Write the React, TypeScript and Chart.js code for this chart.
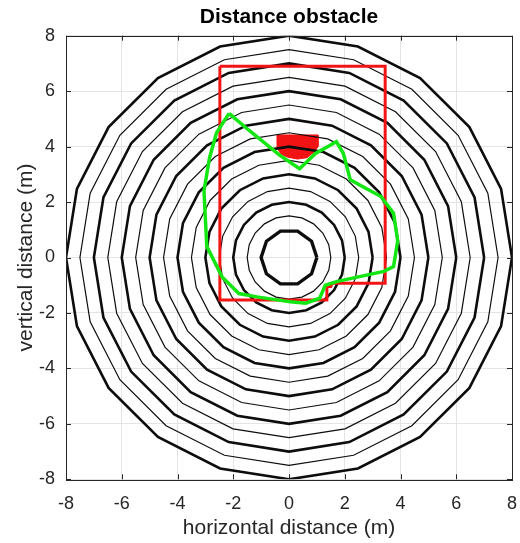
import React, { useEffect, useRef } from 'react';
import { Chart, registerables } from 'chart.js';

Chart.register(...registerables);

// ---- data ----
const AXIS_TICKS = [-8, -6, -4, -2, 0, 2, 4, 6, 8];

// distance rings (radius in m) and number of polygon sides of each ring
const RING_RADII = [1, 1.5, 2, 2.5, 3, 3.5, 4, 4.5, 5, 5.5, 6, 6.5, 7, 7.5, 8];
const RING_SIDES = [10, 20, 20, 20, 20, 20, 20, 20, 20, 20, 20, 20, 20, 20, 20];

// red obstacle outline
const OBSTACLE_X = [-2.48, 3.45, 3.45, 1.55, 1.5, 1.36, 1.36, -2.48, -2.48];
const OBSTACLE_Y = [6.9, 6.9, -0.93, -0.93, -1.05, -1.05, -1.53, -1.53, 6.9];

// red filled target
const TARGET_X = [-0.43, 1.04, 1.04, 0.92, 0.65, 0.3, -0.05, -0.28, -0.43, -0.43];
const TARGET_Y = [4.42, 4.42, 4.0, 3.82, 3.6, 3.55, 3.62, 3.72, 3.95, 4.42];

// green measured path
const PATH_X = [-2.15, -2.6, -2.85, -3.05, -2.95, -2.4, -1.8, -1.15, 0.05, 0.6, 1.1, 1.3, 1.7, 3.4, 3.75, 3.9, 3.75, 3.3, 2.75, 2.2, 1.95, 1.7, 1.35, 0.95, 0.38, -0.35, -1.45, -2.15];
const PATH_Y = [5.2, 4.5, 3.6, 2.4, 0.4, -0.7, -1.3, -1.42, -1.6, -1.65, -1.47, -1.0, -0.87, -0.5, -0.33, 0.6, 1.6, 2.2, 2.5, 2.8, 3.75, 4.18, 3.98, 3.75, 3.2, 3.7, 4.6, 5.2];

const TITLE = 'Distance obstacle';
const X_LABEL = 'horizontal distance (m)';
const Y_LABEL = 'vertical distance (m)';

const FONT = "'Liberation Sans', Arial, Helvetica, sans-serif";

const toPoints = (xs: number[], ys: number[]) => xs.map((x, i) => ({ x, y: ys[i] }));

const ringPoints = (r: number, sides: number) => {
  const pts: { x: number; y: number }[] = [];
  for (let k = 0; k <= sides; k++) {
    const a = (2 * Math.PI * k) / sides;
    pts.push({ x: r * Math.cos(a), y: r * Math.sin(a) });
  }
  return pts;
};

const boxPlugin = {
  id: 'matlabBox',
  afterDatasetsDraw(chart: any) {
    const { ctx, chartArea, scales } = chart;
    const { left, right, top, bottom } = chartArea;
    const xs = scales.x;
    const ys = scales.y;
    ctx.save();
    ctx.strokeStyle = '#262626';
    ctx.lineWidth = 1;
    ctx.beginPath();
    for (const v of AXIS_TICKS) {
      const px = Math.round(xs.getPixelForValue(v)) + 0.5;
      ctx.moveTo(px, bottom);
      ctx.lineTo(px, bottom - 5);
      ctx.moveTo(px, top);
      ctx.lineTo(px, top + 5);
      const py = Math.round(ys.getPixelForValue(v)) + 0.5;
      ctx.moveTo(left, py);
      ctx.lineTo(left + 5, py);
      ctx.moveTo(right, py);
      ctx.lineTo(right - 5, py);
    }
    ctx.stroke();
    ctx.strokeRect(Math.round(left) + 0.5, Math.round(top) + 0.5, Math.round(right - left), Math.round(bottom - top));
    ctx.restore();
  },
};

export default function App() {
  const canvasRef = useRef<HTMLCanvasElement | null>(null);

  useEffect(() => {
    if (!canvasRef.current) return;

    const ringSets = RING_RADII.map((r, i) => ({
      label: `ring ${r}`,
      data: ringPoints(r, RING_SIDES[i]),
      showLine: true,
      borderColor: '#0d0d0d',
      borderWidth: i === 0 ? 3.4 : Number.isInteger(r) ? 2.6 : 1.2,
      pointRadius: 0,
      fill: false,
    }));

    const chart = new Chart(canvasRef.current, {
      type: 'scatter',
      data: {
        datasets: [
          {
            label: 'path',
            data: toPoints(PATH_X, PATH_Y),
            showLine: true,
            borderColor: '#14e614',
            borderWidth: 3.5,
            pointRadius: 0,
            fill: false,
          },
          {
            label: 'obstacle',
            data: toPoints(OBSTACLE_X, OBSTACLE_Y),
            showLine: true,
            borderColor: '#f21414',
            borderWidth: 3,
            pointRadius: 0,
            fill: false,
          },
          ...ringSets,
          {
            label: 'target',
            data: toPoints(TARGET_X, TARGET_Y),
            showLine: true,
            borderColor: '#f21414',
            backgroundColor: '#f21414',
            borderWidth: 1,
            pointRadius: 0,
            fill: 'shape',
          },
        ],
      } as any,
      options: {
        responsive: false,
        animation: false,
        events: [],
        layout: { padding: { left: 0, right: 8, top: 0, bottom: 0 } },
        plugins: {
          legend: { display: false },
          tooltip: { enabled: false },
          title: {
            display: true,
            text: TITLE,
            fullSize: false,
            color: '#000000',
            font: { family: FONT, size: 21, weight: 'bold', lineHeight: 1.2 },
            padding: { top: 5, bottom: 5.5 },
          },
        },
        scales: {
          x: {
            type: 'linear',
            min: -8,
            max: 8,
            afterFit: (scale: any) => {
              scale.height = 63.7;
              scale.paddingLeft = 0;
              scale.paddingRight = 0;
            },
            afterBuildTicks: (scale: any) => {
              scale.ticks = AXIS_TICKS.map((v) => ({ value: v }));
            },
            ticks: {
              autoSkip: false,
              maxRotation: 0,
              color: '#262626',
              padding: 13.5,
              font: { family: FONT, size: 18 },
              callback: (v: any) => String(v),
            },
            grid: { color: '#e4e4e4', drawTicks: false, lineWidth: 1 },
            border: { display: false },
            title: {
              display: true,
              text: X_LABEL,
              color: '#262626',
              font: { family: FONT, size: 21, lineHeight: 1.2 },
              padding: { top: 0, bottom: 1.8 },
            },
          },
          y: {
            type: 'linear',
            min: -8,
            max: 8,
            afterFit: (scale: any) => {
              scale.width = 66;
              scale.paddingTop = 0;
              scale.paddingBottom = 0;
            },
            afterBuildTicks: (scale: any) => {
              scale.ticks = AXIS_TICKS.map((v) => ({ value: v }));
            },
            ticks: {
              autoSkip: false,
              color: '#262626',
              padding: 11,
              font: { family: FONT, size: 18 },
              callback: (v: any) => String(v),
            },
            grid: { color: '#e4e4e4', drawTicks: false, lineWidth: 1 },
            border: { display: false },
            title: {
              display: true,
              text: Y_LABEL,
              color: '#262626',
              font: { family: FONT, size: 21, lineHeight: 1.2 },
              padding: { top: 13.4, bottom: 0 },
            },
          },
        },
      } as any,
      plugins: [boxPlugin],
    });

    return () => chart.destroy();
  }, []);

  return (
    <div style={{ position: 'fixed', left: 0, top: 0, width: 520, height: 543, background: '#ffffff' }}>
      <canvas ref={canvasRef} width={520} height={543} style={{ display: 'block', width: 520, height: 543 }} />
    </div>
  );
}
